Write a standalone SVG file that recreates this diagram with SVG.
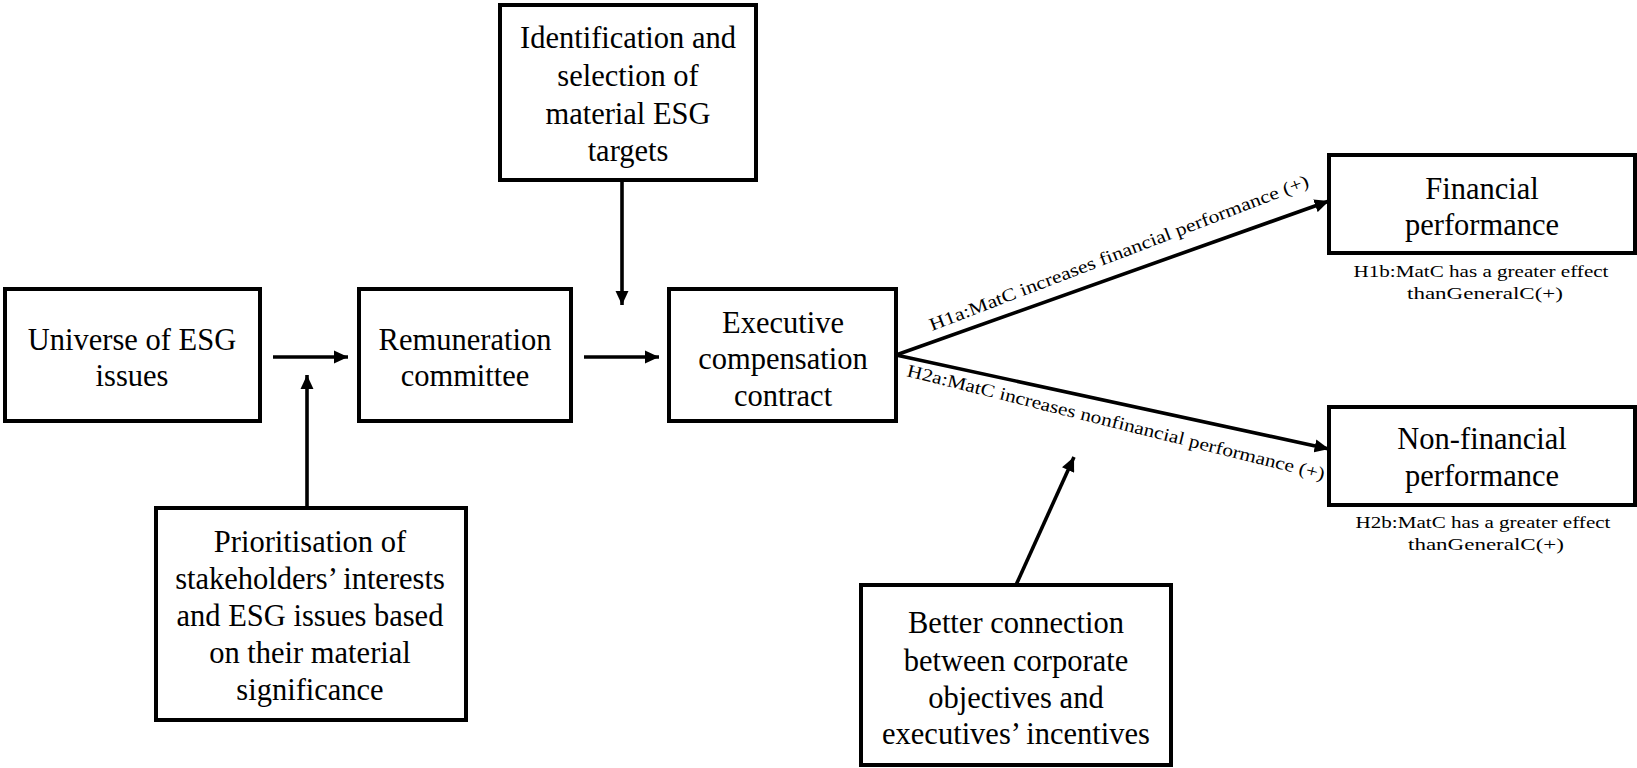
<svg xmlns="http://www.w3.org/2000/svg" width="1637" height="768" viewBox="0 0 1637 768">
  <style>
    .box { fill: #ffffff; stroke: #000000; stroke-width: 4; }
    .lbl { font-family: "Liberation Serif", "Times New Roman", serif; font-size: 30.5px; fill: #000000; text-anchor: middle; }
    .hyp { font-family: "Liberation Serif", "Times New Roman", serif; font-size: 18px; fill: #000000; }
    .note { font-family: "Liberation Serif", "Times New Roman", serif; font-size: 17px; fill: #000000; text-anchor: middle; }
    .conn { stroke: #000000; stroke-width: 3.6; fill: none; marker-end: url(#head); }
  </style>
  <defs>
    <marker id="head" viewBox="0 0 10 10" refX="10" refY="5" markerWidth="4" markerHeight="3.7" markerUnits="strokeWidth" orient="auto" preserveAspectRatio="none">
      <path d="M0,0 L10,5 L0,10 Z" fill="#000000"/>
    </marker>
  </defs>
  <rect width="1637" height="768" fill="#ffffff"/>

  <g id="connectors">
    <line class="conn" x1="273" y1="357" x2="348" y2="357"/>
    <line class="conn" x1="584" y1="357" x2="659" y2="357"/>
    <line class="conn" x1="622" y1="180" x2="622" y2="305"/>
    <line class="conn" x1="307" y1="508" x2="307" y2="375"/>
    <line class="conn" x1="896" y1="355" x2="1329" y2="201"/>
    <line class="conn" x1="896" y1="355" x2="1329" y2="449"/>
    <line class="conn" x1="1016" y1="585" x2="1074" y2="457"/>
  </g>

  <g id="edge-labels">
    <text class="hyp" transform="translate(932,331) rotate(-21)" textLength="405" lengthAdjust="spacingAndGlyphs">H1a:MatC increases financial performance (+)</text>
    <text class="hyp" transform="translate(906,376) rotate(14)" textLength="430" lengthAdjust="spacingAndGlyphs">H2a:MatC increases nonfinancial performance (+)</text>
  </g>

  <g id="universe">
    <rect class="box" x="5" y="289" width="255" height="132"/>
    <text class="lbl" x="132" y="350">Universe of ESG</text>
    <text class="lbl" x="132" y="386">issues</text>
  </g>

  <g id="remuneration">
    <rect class="box" x="359" y="289" width="212" height="132"/>
    <text class="lbl" x="465" y="350">Remuneration</text>
    <text class="lbl" x="465" y="386">committee</text>
  </g>

  <g id="executive">
    <rect class="box" x="669" y="289" width="227" height="132"/>
    <text class="lbl" x="783" y="333">Executive</text>
    <text class="lbl" x="783" y="369">compensation</text>
    <text class="lbl" x="783" y="406">contract</text>
  </g>

  <g id="identification">
    <rect class="box" x="500" y="5" width="256" height="175"/>
    <text class="lbl" x="628" y="48">Identification and</text>
    <text class="lbl" x="628" y="86">selection of</text>
    <text class="lbl" x="628" y="124">material ESG</text>
    <text class="lbl" x="628" y="161">targets</text>
  </g>

  <g id="prioritisation">
    <rect class="box" x="156" y="508" width="310" height="212"/>
    <text class="lbl" x="310" y="552">Prioritisation of</text>
    <text class="lbl" x="310" y="589">stakeholders’ interests</text>
    <text class="lbl" x="310" y="626">and ESG issues based</text>
    <text class="lbl" x="310" y="663">on their material</text>
    <text class="lbl" x="310" y="700">significance</text>
  </g>

  <g id="better-connection">
    <rect class="box" x="861" y="585" width="310" height="180"/>
    <text class="lbl" x="1016" y="633">Better connection</text>
    <text class="lbl" x="1016" y="671">between corporate</text>
    <text class="lbl" x="1016" y="708">objectives and</text>
    <text class="lbl" x="1016" y="744">executives’ incentives</text>
  </g>

  <g id="financial">
    <rect class="box" x="1329" y="155" width="306" height="98"/>
    <text class="lbl" x="1482" y="199">Financial</text>
    <text class="lbl" x="1482" y="235">performance</text>
    <text class="note" x="1481" y="277" textLength="255" lengthAdjust="spacingAndGlyphs">H1b:MatC has a greater effect</text>
    <text class="note" x="1485" y="299" textLength="156" lengthAdjust="spacingAndGlyphs">thanGeneralC(+)</text>
  </g>

  <g id="non-financial">
    <rect class="box" x="1329" y="407" width="306" height="98"/>
    <text class="lbl" x="1482" y="449">Non-financial</text>
    <text class="lbl" x="1482" y="486">performance</text>
    <text class="note" x="1483" y="528" textLength="255" lengthAdjust="spacingAndGlyphs">H2b:MatC has a greater effect</text>
    <text class="note" x="1486" y="550" textLength="156" lengthAdjust="spacingAndGlyphs">thanGeneralC(+)</text>
  </g>
</svg>
